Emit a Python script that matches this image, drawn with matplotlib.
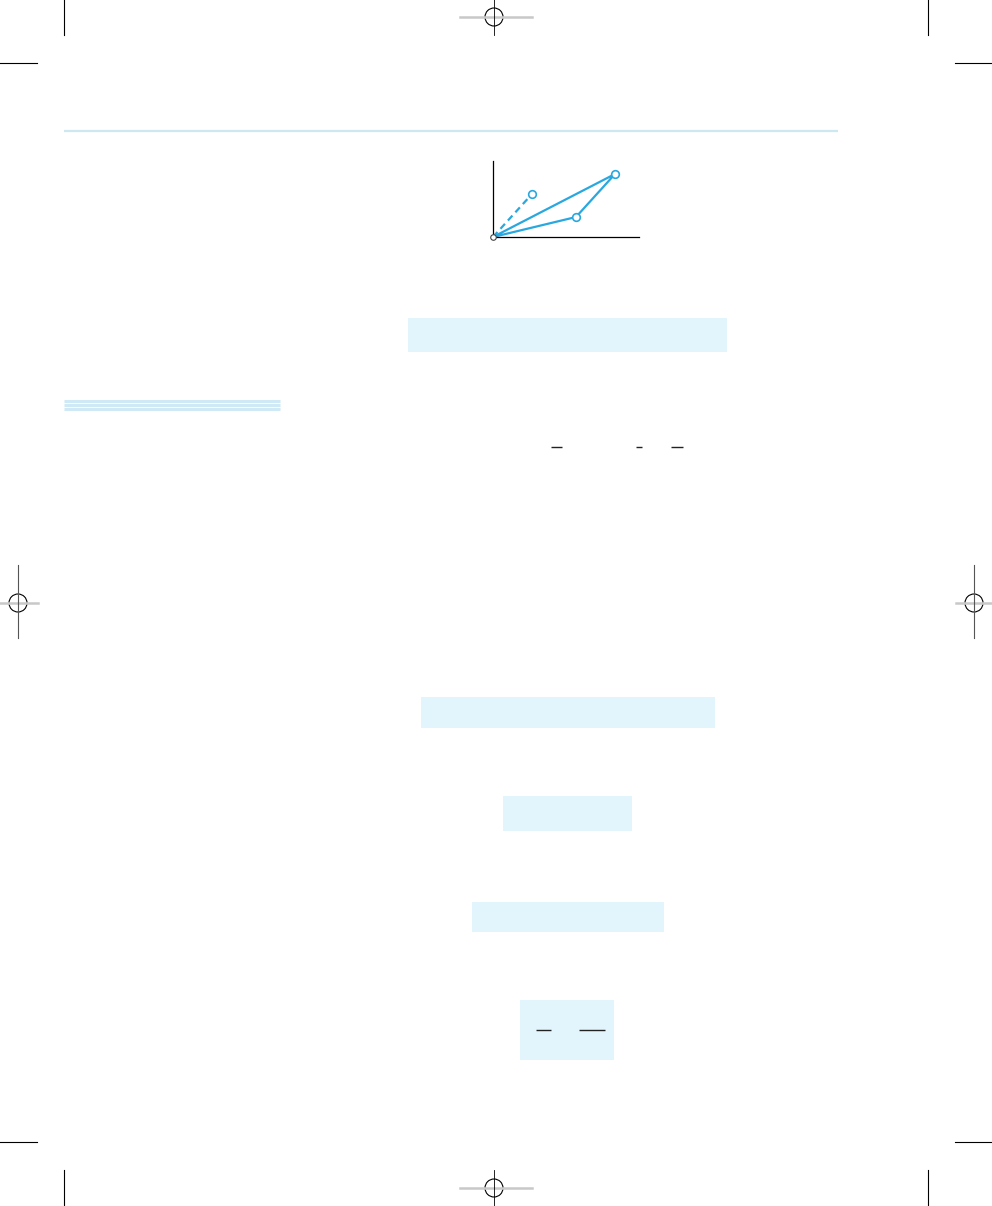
import matplotlib.pyplot as plt
from matplotlib.patches import Rectangle, Circle
import numpy as np

# 页面尺寸（像素）
page_w, page_h = 992, 1206

# 矢量图数据（每单位 = 10 像素）
vec_a = np.array([8.3, 2.0])
vec_c = np.array([3.9, 4.3])
vec_sum = vec_a + vec_c

# 浅蓝色公式框：左, 上, 右, 下
box_left = [408, 421, 503, 472, 520]
box_top = [318, 697, 796, 902, 1000]
box_right = [727, 715, 632, 664, 614]
box_bottom = [352, 728, 831, 932, 1060]

# 分数线：x 起点, x 终点, y
frac_x0 = [551, 636, 671, 536, 579]
frac_x1 = [562, 642, 683, 551, 605]
frac_y = [447, 447, 447, 1030, 1030]

# 左侧装饰线
deco_y = [401, 405, 409]

# 套准标记中心
reg_x = [494, 494, 18, 974]
reg_y = [17, 1188, 603, 603]

box_color = '#e3f5fc'
line_blue = '#29a8e0'

fig = plt.figure(figsize=(page_w / 100, page_h / 100), dpi=100)
ax = fig.add_axes([0, 0, 1, 1])
ax.set_xlim(0, page_w)
ax.set_ylim(page_h, 0)
ax.axis('off')

# 页眉线
ax.plot([64, 838], [131, 131], color='#cde8f0', lw=1.6, solid_capstyle='butt')

# 左侧三条装饰线
for y in deco_y:
    ax.plot([64, 280], [y, y], color='#cfeaf6', lw=2.2, solid_capstyle='butt')

# 公式框
for l, t, r, b in zip(box_left, box_top, box_right, box_bottom):
    ax.add_patch(Rectangle((l, t), r - l, b - t, facecolor=box_color, edgecolor='none'))

# 分数线
for x0, x1, y in zip(frac_x0, frac_x1, frac_y):
    ax.plot([x0, x1], [y, y], color='#222222', lw=1.0, solid_capstyle='butt')

# 裁切标记
for x in [64, 928]:
    ax.plot([x, x], [0, 35], color='black', lw=0.8)
    ax.plot([x, x], [1170, page_h], color='black', lw=0.8)
for y in [63, 1142]:
    ax.plot([0, 37], [y, y], color='black', lw=0.8)
    ax.plot([955, page_w], [y, y], color='black', lw=0.8)

# 套准标记
for i, (cx, cy) in enumerate(zip(reg_x, reg_y)):
    if i < 2:
        ax.plot([cx - 34, cx + 38], [cy, cy], color='#c8c8c8', lw=1.8)
        ax.plot([cx, cx], [cy - 18, cy + 18], color='black', lw=0.6)
    else:
        ax.plot([cx - 18, cx + 20], [cy, cy], color='#c8c8c8', lw=1.8)
        ax.plot([cx, cx], [cy - 38, cy + 35], color='#555555', lw=0.8)
    ax.add_patch(Circle((cx, cy), 9, facecolor='none', edgecolor='black', lw=0.8))

# 矢量加法示意图
ax2 = fig.add_axes([493 / page_w, 1 - 237 / page_h, 146 / page_w, 76 / page_h])
ax2.set_xlim(0, 14.6)
ax2.set_ylim(0, 7.6)
for s in ['top', 'right']:
    ax2.spines[s].set_visible(False)
for s in ['left', 'bottom']:
    ax2.spines[s].set_linewidth(0.9)
ax2.set_xticks([])
ax2.set_yticks([])
ax2.patch.set_alpha(0)

ax2.plot([0, vec_c[0]], [0, vec_c[1]], color=line_blue, lw=1.6, ls=(0, (3, 2)))
ax2.plot([0, vec_a[0], vec_sum[0], 0], [0, vec_a[1], vec_sum[1], 0], color=line_blue, lw=1.6)
ax2.plot([vec_c[0], vec_a[0], vec_sum[0]], [vec_c[1], vec_a[1], vec_sum[1]], 'o', ms=5.5,
         mfc='white', mec=line_blue, mew=1.2, clip_on=False)
ax2.plot([0], [0], 'o', ms=4, mfc='white', mec='#444444', mew=0.8, clip_on=False, zorder=5)

fig.savefig('out.png', dpi=100, facecolor='white')
